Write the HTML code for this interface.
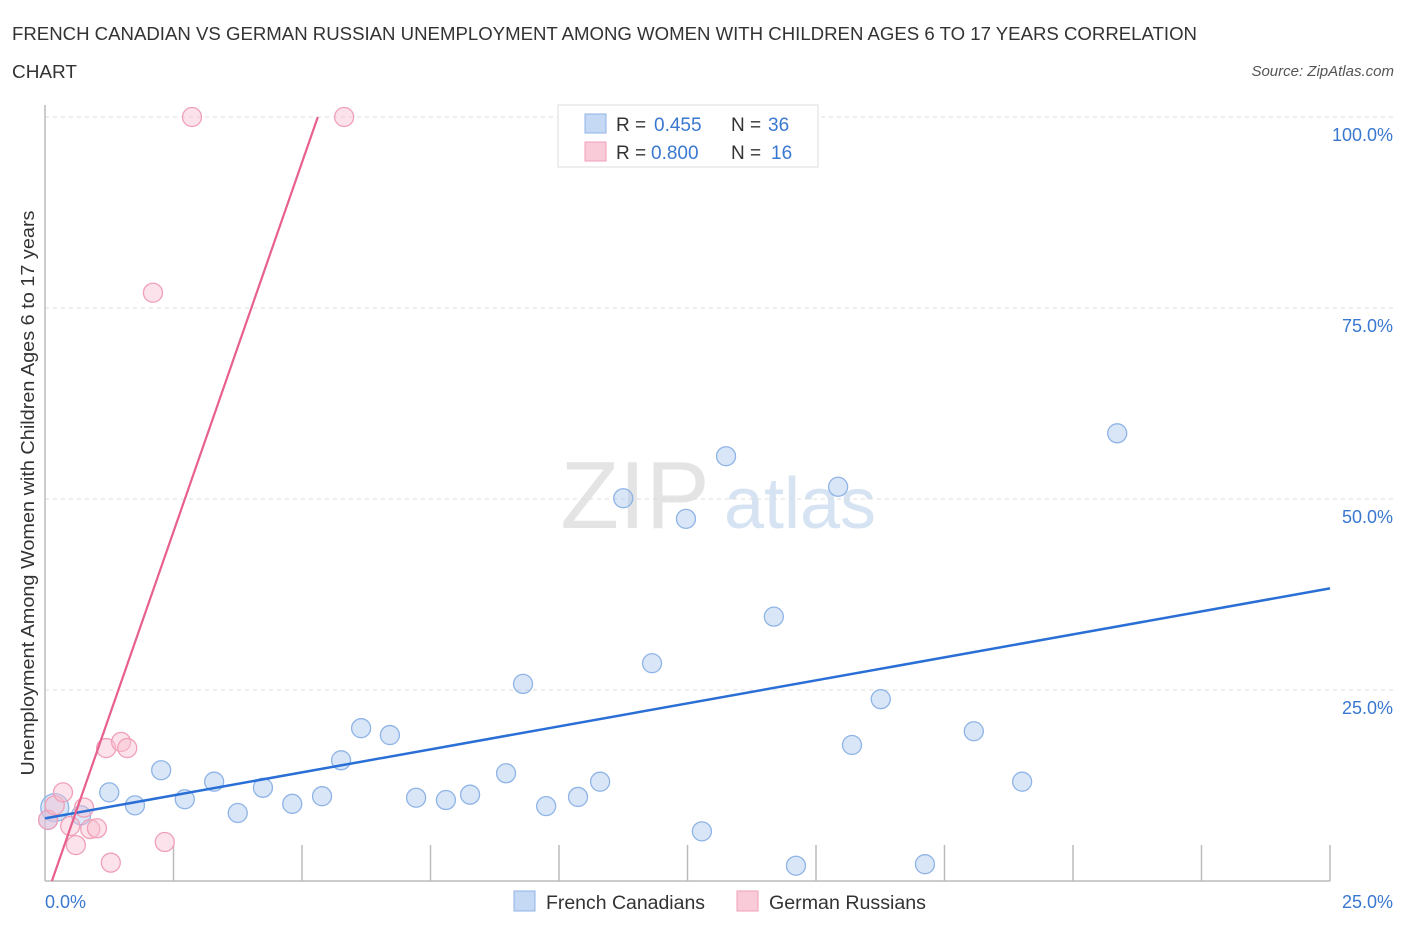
<!DOCTYPE html>
<html><head><meta charset="utf-8"><style>
body{margin:0;background:#fff;font-family:"Liberation Sans",sans-serif;}
svg text{font-family:"Liberation Sans",sans-serif;}
</style></head><body>
<svg id="chart" width="1406" height="930" viewBox="0 0 1406 930">
<text x="12" y="40" font-size="18" fill="#333" textLength="1185" lengthAdjust="spacingAndGlyphs">FRENCH CANADIAN VS GERMAN RUSSIAN UNEMPLOYMENT AMONG WOMEN WITH CHILDREN AGES 6 TO 17 YEARS CORRELATION</text>
<text x="12" y="78" font-size="18" fill="#333" textLength="65" lengthAdjust="spacingAndGlyphs">CHART</text>
<text x="1394" y="76" font-size="15" fill="#555" font-style="italic" text-anchor="end">Source: ZipAtlas.com</text>
<text x="635" y="528" font-size="96" fill="#e4e4e4" font-family="Liberation Serif" text-anchor="middle">ZIP</text>
<text x="800" y="528" font-size="72" fill="#d6e3f3" text-anchor="middle">atlas</text>
<g id="grid"></g>
<g id="axes"></g>
<g id="marks"></g>
<text transform="translate(34,493) rotate(-90)" font-size="18" fill="#333" text-anchor="middle" textLength="565" lengthAdjust="spacingAndGlyphs">Unemployment Among Women with Children Ages 6 to 17 years</text>
<g>
<rect x="558" y="105" width="260" height="62" fill="#fff" stroke="#ddd"/>
<rect x="585" y="114" width="21" height="19" fill="#c5d9f5" stroke="#8fb4e6"/>
<rect x="585" y="142" width="21" height="19" fill="#f9cad8" stroke="#f0a0b8"/>
<text y="131" font-size="19" fill="#333"><tspan x="616">R =</tspan><tspan x="654" fill="#3a78d0">0.455</tspan><tspan x="731">N =</tspan><tspan x="768" fill="#3a78d0">36</tspan></text>
<text y="159" font-size="19" fill="#333"><tspan x="616">R =</tspan><tspan x="651" fill="#3a78d0">0.800</tspan><tspan x="731">N =</tspan><tspan x="771" fill="#3a78d0">16</tspan></text>
</g>
<g>
<rect x="514" y="891" width="21" height="20" fill="#c5d9f5" stroke="#8fb4e6"/>
<text x="546" y="909" font-size="19" fill="#333" textLength="159" lengthAdjust="spacingAndGlyphs">French Canadians</text>
<rect x="737" y="891" width="21" height="20" fill="#f9cad8" stroke="#f0a0b8"/>
<text x="769" y="909" font-size="19" fill="#333" textLength="157" lengthAdjust="spacingAndGlyphs">German Russians</text>
</g>
</svg>
<script>
const blueX=[0.19,0.06,0.70,1.25,1.75,2.26,2.72,3.29,3.75,4.24,4.81,5.39,5.76,6.15,6.71,7.22,7.80,8.27,8.97,9.30,9.75,10.37,10.80,11.25,11.81,12.47,12.78,13.25,14.18,14.61,15.43,15.70,16.26,17.12,18.07,19.01,20.86];
const blueY=[9.6,8.0,8.6,11.6,9.9,14.5,10.7,13.0,8.9,12.2,10.1,11.1,15.8,20.0,19.1,10.9,10.6,11.3,14.1,25.8,9.8,11.0,13.0,50.1,28.5,47.4,6.5,55.6,34.6,2.0,51.6,17.8,23.8,2.2,19.6,13.0,58.6];
const pinkX=[0.06,0.19,0.35,0.49,0.60,0.76,0.88,1.01,1.19,1.28,1.48,1.60,2.10,2.33,2.86,5.82];
const pinkY=[8.0,9.9,11.6,7.2,4.7,9.6,6.8,6.9,17.4,2.4,18.2,17.4,77.0,5.1,100,100];
const blueTrend=[8.2,38.3];
const pinkTrend=[-2.6,19.33];
const yTicks=[25,50,75,100];
const yTickLabels=["25.0%","50.0%","75.0%","100.0%"];
const xTicks=[0,2.5,5,7.5,10,12.5,15,17.5,20,22.5,25];
const NS="http://www.w3.org/2000/svg";
const sx=v=>45+v/25*1285, sy=v=>881-v/100*764;
function mk(t,a,p){const e=document.createElementNS(NS,t);for(const k in a)e.setAttribute(k,a[k]);p.appendChild(e);return e;}
const grid=document.getElementById('grid'),axes=document.getElementById('axes'),marks=document.getElementById('marks');
yTicks.forEach((v,i)=>{
 const l=mk('line',{x1:45,x2:1395,y1:sy(v),y2:sy(v),stroke:'#ddd','stroke-dasharray':'4,4'},grid);
 
 
 const t=mk('text',{x:1393,y:sy(v)+24,'font-size':18,fill:'#3a78d0','text-anchor':'end'},grid);
 t.textContent=yTickLabels[i];
 
 
});
let ax=mk('line',{x1:45,x2:1330,y1:881,y2:881,stroke:'#bbb','stroke-width':1.5},axes);


let ay=mk('line',{x1:45,x2:45,y1:105,y2:881,stroke:'#bbb','stroke-width':1.5},axes);


xTicks.slice(1).forEach(v=>{
 const l=mk('line',{x1:sx(v),x2:sx(v),y1:845,y2:881,stroke:'#bbb','stroke-width':1.5},axes);
 
 
});
let t0=mk('text',{x:45,y:908,'font-size':18,fill:'#3a78d0'},axes);t0.textContent='0.0%';


let t1=mk('text',{x:1393,y:908,'font-size':18,fill:'#3a78d0','text-anchor':'end'},axes);t1.textContent='25.0%';


blueX.forEach((x,i)=>{
 const c=mk('circle',{cx:sx(x),cy:sy(blueY[i]),r:i==0?14:9.5,fill:'rgba(170,200,240,0.45)',stroke:'#8fb4e6','stroke-width':1.3},marks);
 
 
});
pinkX.forEach((x,i)=>{
 const c=mk('circle',{cx:sx(x),cy:sy(pinkY[i]),r:9.5,fill:'rgba(248,190,208,0.45)',stroke:'#f0a0b8','stroke-width':1.3},marks);
 
 
});
let bl=mk('line',{x1:sx(0),y1:sy(blueTrend[0]),x2:sx(25),y2:sy(blueTrend[1]),stroke:'#2a6fd6','stroke-width':2.5},marks);


const px0=-pinkTrend[0]/pinkTrend[1], px1=(100-pinkTrend[0])/pinkTrend[1];
let pl=mk('line',{x1:sx(px0),y1:sy(0),x2:sx(px1),y2:sy(100),stroke:'#e8608c','stroke-width':2.2},marks);


</script>
</body></html>
